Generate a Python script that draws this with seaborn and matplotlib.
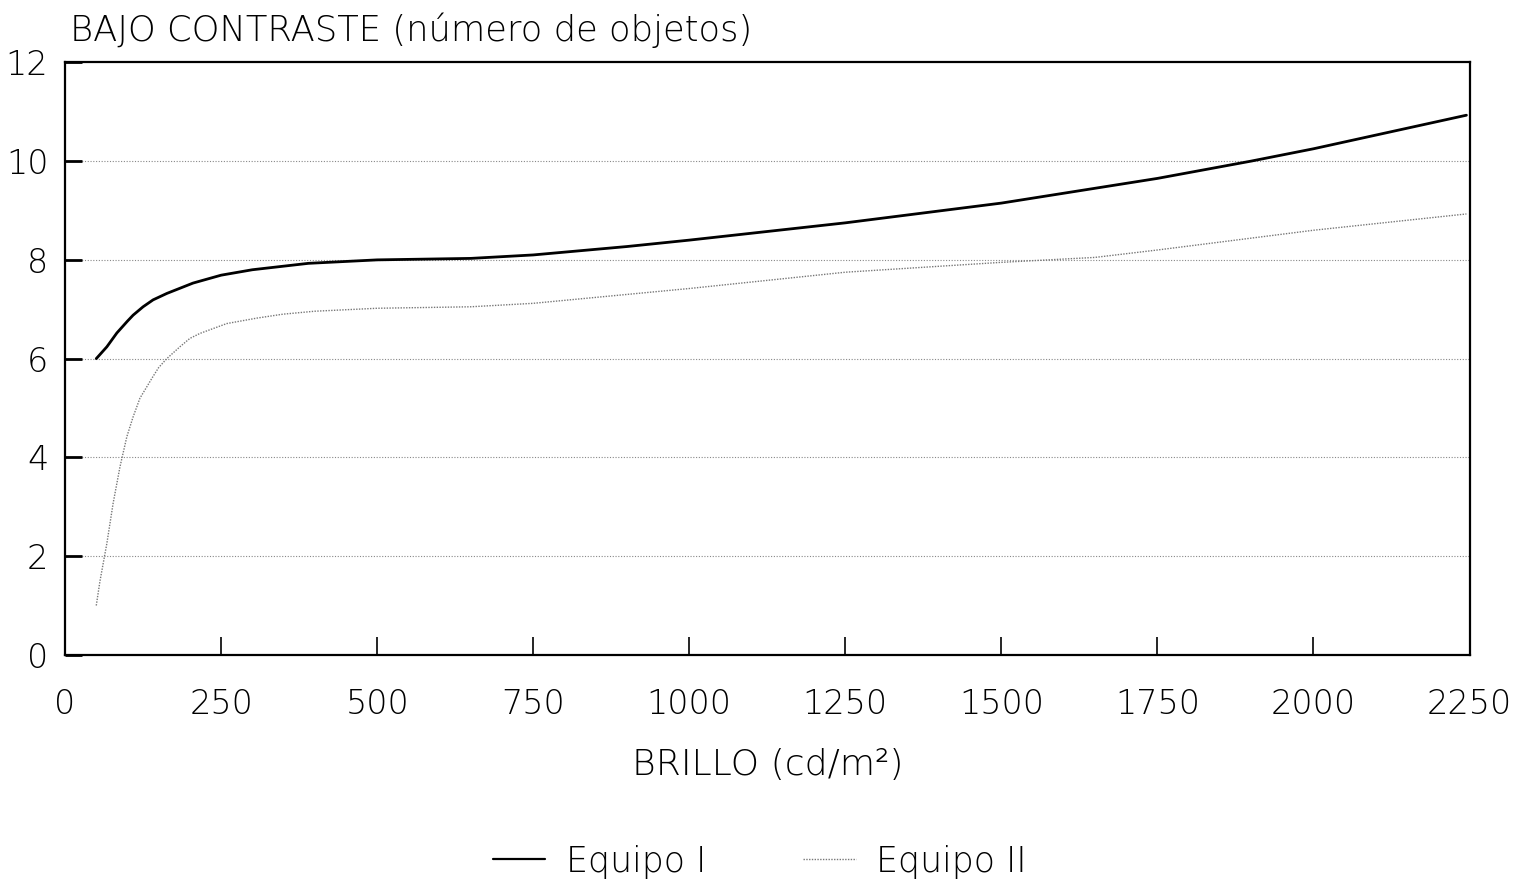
import numpy as np
import pandas as pd
import seaborn as sns
import matplotlib
matplotlib.use("Agg")
import matplotlib.pyplot as plt
from matplotlib.lines import Line2D

# values
brillo_1 = [50, 67, 83, 100, 109, 125, 141, 163, 189, 205, 250, 300, 390, 500,
            650, 750, 900, 1000, 1250, 1500, 1750, 1900, 2000, 2245]
equipo_1 = [6.0, 6.24, 6.52, 6.76, 6.88, 7.05, 7.19, 7.32, 7.45, 7.53, 7.69, 7.8,
            7.93, 8.0, 8.03, 8.1, 8.27, 8.4, 8.75, 9.15, 9.65, 10.0, 10.25, 10.93]

brillo_2 = [50, 56, 67, 77, 88, 99, 109, 120, 131, 140, 150, 163, 184, 200, 216,
            259, 307, 349, 400, 500, 650, 750, 900, 1000, 1250, 1500, 1650, 1750,
            2000, 2245]
equipo_2 = [1.0, 1.5, 2.26, 3.07, 3.81, 4.42, 4.82, 5.2, 5.43, 5.62, 5.82, 6.0,
            6.24, 6.41, 6.51, 6.71, 6.82, 6.9, 6.96, 7.02, 7.05, 7.12, 7.3, 7.42,
            7.75, 7.95, 8.05, 8.2, 8.6, 8.93]

x_ticks = [0, 250, 500, 750, 1000, 1250, 1500, 1750, 2000, 2250]
y_ticks = [0, 2, 4, 6, 8, 10, 12]

df1 = pd.DataFrame({"brillo": brillo_1, "objetos": equipo_1})
df2 = pd.DataFrame({"brillo": brillo_2, "objetos": equipo_2})

sns.set_style("white")
plt.rcParams['font.family'] = ['DejaVu Sans']
plt.rcParams['font.weight'] = 'light'
plt.rcParams['text.color'] = 'black'

fig = plt.figure(figsize=(15.2, 8.91), dpi=100)
ax = fig.add_axes([0.0428, 0.265, 0.924, 0.665])

# dotted horizontal grid
for yv in y_ticks[1:-1]:
    ax.axhline(yv, color="#888888", linestyle=(0, (1, 1.5)), linewidth=0.8, zorder=0)

sns.lineplot(data=df1, x="brillo", y="objetos", ax=ax, color="black", linewidth=2.0)
sns.lineplot(data=df2, x="brillo", y="objetos", ax=ax, color="#777777",
             linewidth=1.0, linestyle=(0, (1, 1)))

ax.set_xlim(0, 2250)
ax.set_ylim(0, 12)
ax.set_xticks(x_ticks)
ax.set_yticks(y_ticks)
ax.tick_params(axis="x", bottom=True, direction="in", length=13, width=1.2, pad=24,
               labelsize=24, colors="black")
ax.tick_params(axis="y", left=True, direction="in", length=12, width=2, pad=12,
               labelsize=24, colors="black")
for s in ax.spines.values():
    s.set_color("black")
    s.set_linewidth(1.6)
ax.set_xlabel("")
ax.set_ylabel("")

fig.text(0.046, 0.966, "BAJO CONTRASTE (número de objetos)", fontsize=25.5,
         ha="left", va="center")
fig.text(0.505, 0.141, "BRILLO (cd/m²)", fontsize=26, ha="center", va="center")

handles = [Line2D([], [], color="black", linewidth=1.6),
           Line2D([], [], color="#777777", linewidth=1.0, linestyle=(0, (1, 1)))]
fig.legend(handles, ["Equipo I", "Equipo II"], loc="center", ncol=2,
           bbox_to_anchor=(0.5, 0.033), frameon=False, fontsize=25,
           handlelength=1.5, columnspacing=2.8, handletextpad=0.6)

fig.savefig("out.png", dpi=100)
